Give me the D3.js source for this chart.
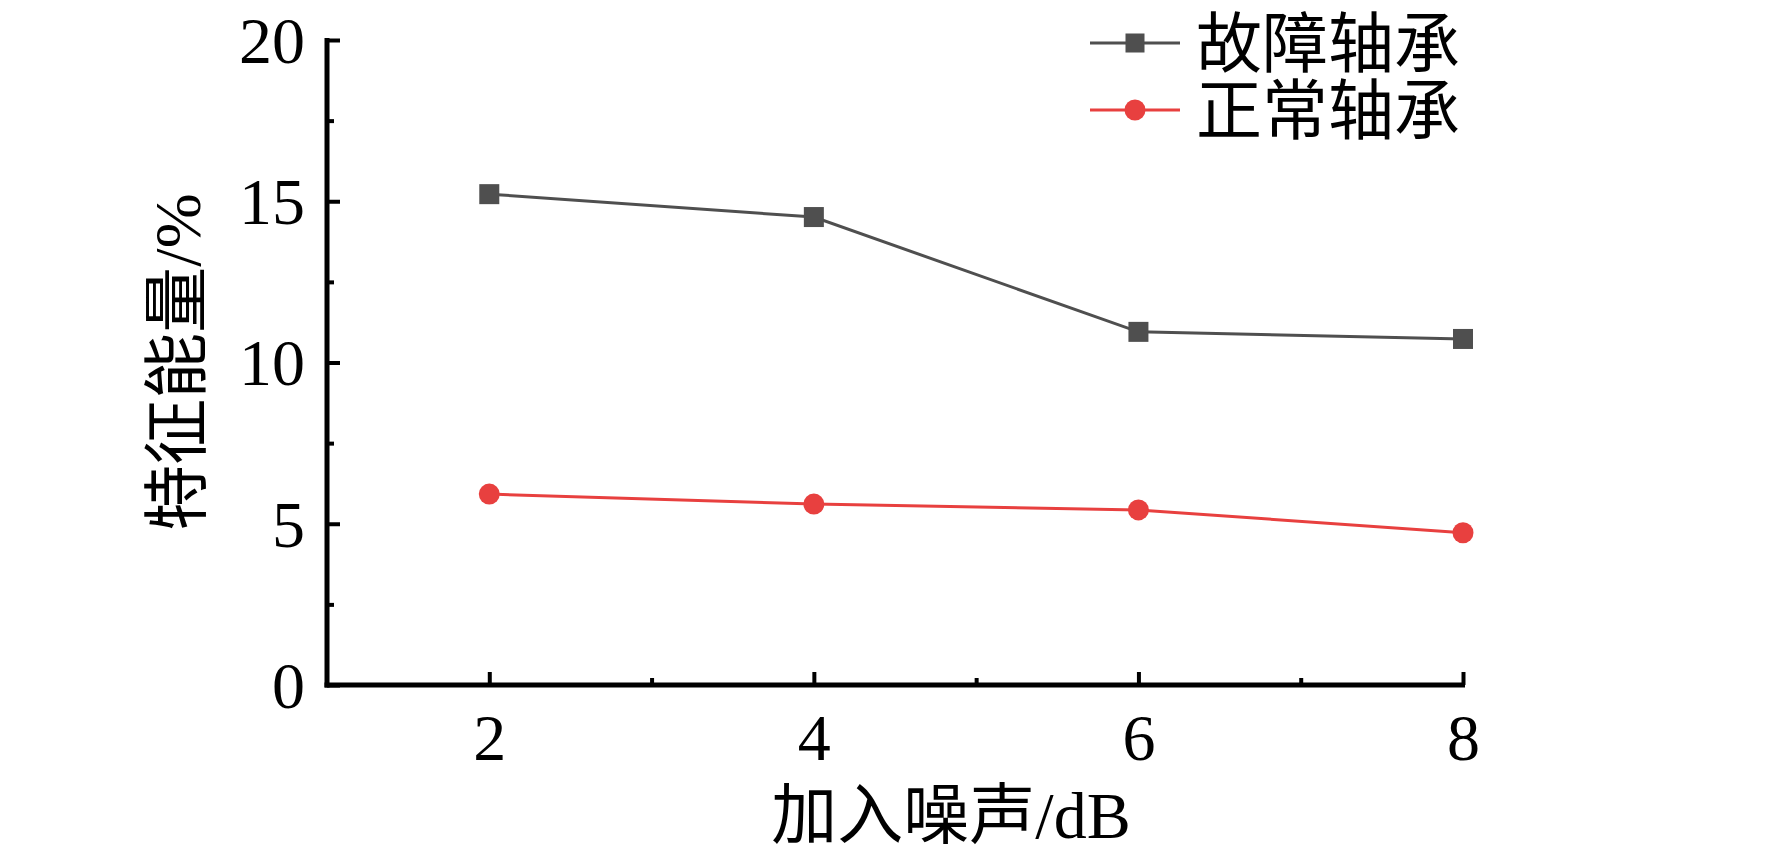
<!DOCTYPE html>
<html>
<head>
<meta charset="utf-8">
<script src="https://cdn.jsdelivr.net/npm/d3@7"></script>
<style>
  html, body { margin: 0; padding: 0; background: #fff; }
  text { font-family: "Liberation Serif", "Times New Roman", "Noto Sans CJK SC", serif; fill: #000; }
</style>
</head>
<body>
<svg id="chart" width="1772" height="858"></svg>
<script>
// data
const noise = [2, 4, 6, 8];
const faultBearing = [15.22, 14.51, 10.95, 10.73];
const normalBearing = [5.92, 5.61, 5.43, 4.72];
const seriesNames = ["故障轴承", "正常轴承"];
const xTicks = [2, 4, 6, 8];
const yTicks = [0, 5, 10, 15, 20];

const grey = "#4f4f4f";
const red = "#e8403f";
const fontSize = 66;

const svg = d3.select("#chart");

const x = d3.scaleLinear().domain([1, 8]).range([327, 1463]);
const y = d3.scaleLinear().domain([0, 20]).range([685, 40]);

// minor ticks first so the axis line sits on top
svg.append("g")
  .attr("transform", `translate(0,${y(0)})`)
  .call(d3.axisBottom(x).tickValues([3, 5, 7]).tickSize(-7).tickFormat(""))
  .call(g => g.select(".domain").remove())
  .call(g => g.selectAll("line").attr("stroke", "#000").attr("stroke-width", 4));

svg.append("g")
  .attr("transform", `translate(${x(1)},0)`)
  .call(d3.axisLeft(y).tickValues([2.5, 7.5, 12.5, 17.5]).tickSize(-7).tickFormat(""))
  .call(g => g.select(".domain").remove())
  .call(g => g.selectAll("line").attr("stroke", "#000").attr("stroke-width", 4));

// x axis
const xAxis = svg.append("g")
  .attr("transform", `translate(0,${y(0)})`)
  .call(d3.axisBottom(x).tickValues(xTicks).tickFormat(d3.format("d"))
    .tickSize(-13).tickSizeOuter(0).tickPadding(0));
xAxis.select(".domain").attr("stroke", "#000").attr("stroke-width", 5)
  .attr("d", `M${x(1) - 2.5},0H${x(8) + 2}`);
xAxis.selectAll(".tick line").attr("stroke", "#000").attr("stroke-width", 4);
xAxis.selectAll(".tick text")
  .attr("y", 75).attr("dy", 0)
  .style("font-size", fontSize + "px");

// y axis
const yAxis = svg.append("g")
  .attr("transform", `translate(${x(1)},0)`)
  .call(d3.axisLeft(y).tickValues(yTicks).tickFormat(d3.format("d"))
    .tickSize(-13).tickSizeOuter(0));
yAxis.select(".domain").attr("stroke", "#000").attr("stroke-width", 5)
  .attr("d", `M0,${y(20) - 2}V${y(0) + 2.5}`);
yAxis.selectAll(".tick line").attr("stroke", "#000").attr("stroke-width", 4);
yAxis.selectAll(".tick text")
  .attr("x", -22).attr("dy", "0.34em")
  .style("font-size", fontSize + "px");
svg.selectAll(".tick text").attr("fill", "#000").style("font-family", '"Liberation Serif", serif');

// axis titles
svg.append("text")
  .attr("x", 951).attr("y", 838)
  .attr("text-anchor", "middle")
  .style("font-size", fontSize + "px")
  .text("加入噪声/dB");

svg.append("text")
  .attr("transform", "translate(200,362) rotate(-90)")
  .attr("text-anchor", "middle")
  .style("font-size", fontSize + "px")
  .text("特征能量/%");

// lines and markers
const line = d3.line().x((d, i) => x(noise[i])).y(d => y(d));

svg.append("path").datum(faultBearing)
  .attr("fill", "none").attr("stroke", grey).attr("stroke-width", 3)
  .attr("d", line);
svg.append("path").datum(normalBearing)
  .attr("fill", "none").attr("stroke", red).attr("stroke-width", 3)
  .attr("d", line);

const sq = 20;
svg.append("g").selectAll("rect")
  .data(faultBearing)
  .join("rect")
  .attr("x", (d, i) => x(noise[i]) - sq / 2)
  .attr("y", d => y(d) - sq / 2)
  .attr("width", sq).attr("height", sq)
  .attr("fill", grey);

svg.append("g").selectAll("circle")
  .data(normalBearing)
  .join("circle")
  .attr("cx", (d, i) => x(noise[i]))
  .attr("cy", d => y(d))
  .attr("r", 10.5)
  .attr("fill", red);

// legend
const legend = svg.append("g");
const rows = [{ name: seriesNames[0], color: grey, shape: "square", ly: 43 },
              { name: seriesNames[1], color: red, shape: "circle", ly: 110 }];
rows.forEach(r => {
  legend.append("line")
    .attr("x1", 1090).attr("x2", 1180).attr("y1", r.ly).attr("y2", r.ly)
    .attr("stroke", r.color).attr("stroke-width", 3);
  if (r.shape == "square") {
    legend.append("rect")
      .attr("x", 1135 - 9.5).attr("y", r.ly - 9.5)
      .attr("width", 19).attr("height", 19).attr("fill", r.color);
  } else {
    legend.append("circle")
      .attr("cx", 1135).attr("cy", r.ly).attr("r", 10.5).attr("fill", r.color);
  }
  legend.append("text")
    .attr("x", 1196).attr("y", r.ly).attr("dy", "0.36em")
    .style("font-size", fontSize + "px")
    .text(r.name);
});
</script>
</body>
</html>
